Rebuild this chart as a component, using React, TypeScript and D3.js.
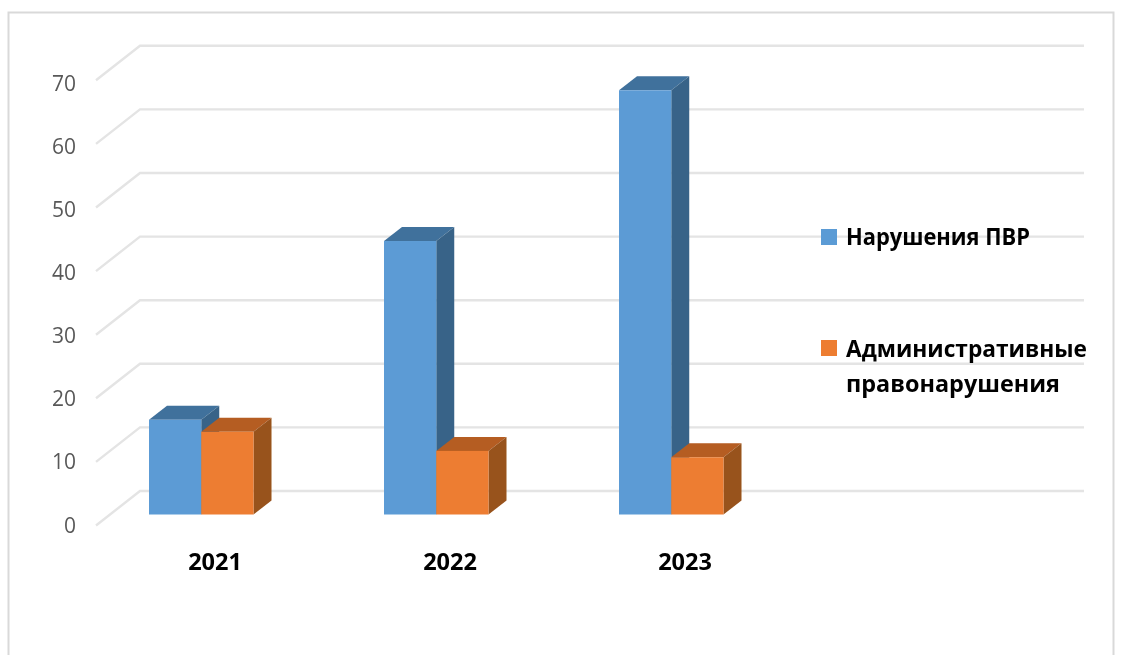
import React from "react";
import * as d3 from "d3";

const years = ["2021", "2022", "2023"];
const violations = [14.9, 43, 66.7];
const offences = [13, 10, 9];
const yTicks = [0, 10, 20, 30, 40, 50, 60, 70];
const seriesNames = ["Нарушения ПВР", "Административные правонарушения"];

const W = 1124;
const H = 655;
const FONT = "'Open Sans', 'Noto Sans', sans-serif";

const series = [
  { name: seriesNames[0], values: violations, front: "#5b9bd5", top: "#41719c", side: "#386488" },
  { name: seriesNames[1], values: offences, front: "#ed7d31", top: "#b55d22", side: "#98521c" },
];

export default function App() {
  const baseFront = 514.5;
  const unit = 6.36;
  const barH = d3.scaleLinear().domain([0, 70]).range([0, 70 * unit]);
  const yBack = (v: number) => 491 - barH(v);
  const yFrontAxis = (v: number) => 525.5 - barH(v);
  const yBar = (v: number) => baseFront - barH(v);
  const yLabel = d3.scaleLinear().domain([0, 70]).range([525, 83]);

  const xCat = d3.scaleBand<string>().domain(years).range([97.5, 802.5]);
  const xSeries = d3.scaleBand<number>().domain([0, 1]).range([0, 104.5]);
  const barStart = (year: string) => xCat(year)! + xCat.bandwidth() / 2 - 66;

  const depthX = 18;
  const depthY = 14;

  return (
    <svg width={W} height={H} viewBox={`0 0 ${W} ${H}`}
      style={{ position: "absolute", left: 0, top: 0, background: "#fff" }}>
      <defs>
        <filter id="soft" x="-2%" y="-2%" width="104%" height="104%">
          <feGaussianBlur stdDeviation="0.5" />
        </filter>
        <filter id="softText" x="-5%" y="-5%" width="110%" height="110%">
          <feGaussianBlur stdDeviation="0.3" />
        </filter>
      </defs>
      <path d={`M8.5 655V12.5H1113.5V655`} fill="none" stroke="#d9d9d9" strokeWidth={2} />

      <g stroke="#e4e4e4" strokeWidth={2.4} fill="none" filter="url(#soft)">
        {yTicks.map((t) => (
          <path key={t} d={`M96 ${yFrontAxis(t)}L140 ${yBack(t)}H1084`} />
        ))}
      </g>

      <g filter="url(#soft)">
        {years.map((year, i) =>
          series.map((s, j) => {
            const v = s.values[i];
            const x0 = barStart(year) + xSeries(j)!;
            const x1 = x0 + xSeries.bandwidth();
            const yt = yBar(v);
            return (
              <g key={year + s.name}>
                <path fill={s.top}
                  d={`M${x0} ${yt}L${x0 + depthX} ${yt - depthY}H${x1 + depthX}L${x1} ${yt}Z`} />
                <path fill={s.side}
                  d={`M${x1} ${yt}L${x1 + depthX} ${yt - depthY}V${baseFront - depthY}L${x1} ${baseFront}Z`} />
                <rect x={x0} y={yt} width={x1 - x0} height={baseFront - yt} fill={s.front} />
              </g>
            );
          })
        )}
      </g>

      <g fontFamily={FONT} fontSize={21} fill="#595959" textAnchor="end" filter="url(#softText)">
        {yTicks.map((t) => (
          <text key={t} x={76} y={yLabel(t) + 7.5}>{t}</text>
        ))}
      </g>

      <g fontFamily={FONT} fontSize={23.5} fontWeight={700} fill="#000" textAnchor="middle" filter="url(#softText)">
        {years.map((year) => (
          <text key={year} x={xCat(year)! + xCat.bandwidth() / 2} y={570}>{year}</text>
        ))}
      </g>

      <rect x={821} y={229} width={16} height={16} fill={series[0].front} />
      <rect x={821} y={340} width={16} height={16} fill={series[1].front} />
      <g fontFamily={FONT} fontSize={23} fontWeight={700} fill="#000" filter="url(#softText)">
        <text x={846} y={245} textLength={184} lengthAdjust="spacingAndGlyphs">{seriesNames[0]}</text>
        <text x={846} y={357} textLength={241} lengthAdjust="spacingAndGlyphs">{seriesNames[1].split(" ")[0]}</text>
        <text x={846} y={392} textLength={214} lengthAdjust="spacingAndGlyphs">{seriesNames[1].split(" ")[1]}</text>
      </g>
    </svg>
  );
}
